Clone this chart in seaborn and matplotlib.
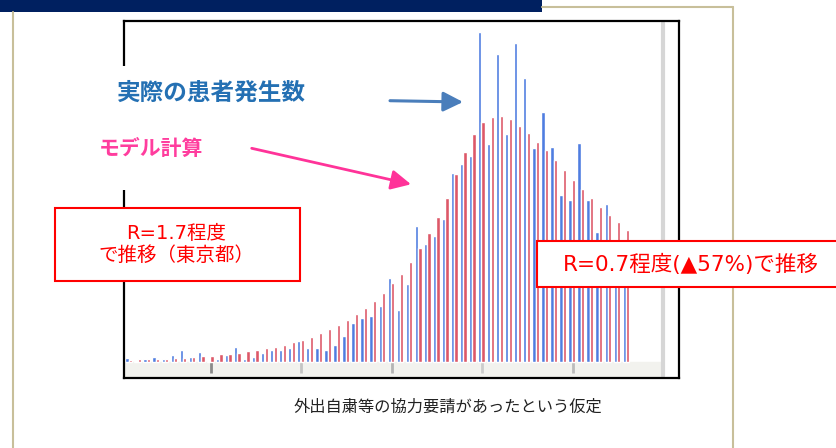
import matplotlib
matplotlib.use("Agg")
import matplotlib.pyplot as plt
from matplotlib.patches import Rectangle, FancyArrowPatch
from matplotlib.lines import Line2D
import pandas as pd
import seaborn as sns

# data (bar heights in arbitrary units)
days = list(range(56))
actual = [3.7, 1.5, 3.3, 5.3, 3.3, 6.7, 12, 5.3, 10.3, 1,
          3.3, 6.7, 15.3, 3.3, 5.3, 8.7, 12, 12, 13.7, 21,
          13.7, 13.7, 12, 17, 26, 39, 44, 46, 56, 84,
          52, 78, 136, 118, 126, 143, 189, 198, 206, 330,
          218, 308, 228, 319, 284, 214, 250, 215, 167, 162,
          219, 162, 130, 158, 112, 100]
model = [2, 2.7, 2.7, 3.3, 3.3, 4, 4, 5, 6, 6,
         7.7, 7.7, 9.3, 11, 12, 13.7, 15.3, 17.3, 20, 22,
         25, 29, 33, 37, 42, 48, 54, 61, 69, 79,
         88, 100, 114, 129, 145, 164, 188, 210, 228, 240,
         245, 246, 243, 236, 229, 220, 212, 202, 192, 182,
         173, 164, 155, 147, 140, 132]
series_names = ["実際の患者発生数", "モデル計算"]
tick_pos = [9.1, 19.1, 29.1, 39.1, 49.1]

sns.set_style("white")
plt.rcParams["font.family"] = ["Noto Sans CJK JP", "DejaVu Sans"]
latin_first = ["DejaVu Sans", "Noto Sans CJK JP"]

W, H = 837, 448
def fx(px):
    return px / W
def fy(py):
    return 1 - py / H

fig = plt.figure(figsize=(W / 100, H / 100), dpi=100)

# slide decoration
fig.patches.append(Rectangle((0, fy(12.5)), fx(542), 12.5 / H, transform=fig.transFigure,
                             facecolor="#002060", edgecolor="none", zorder=0))
gold = "#c8bf9a"
fig.add_artist(Line2D([fx(13), fx(13)], [fy(12), 0], transform=fig.transFigure, color=gold, lw=1.5))
fig.add_artist(Line2D([fx(542), fx(733)], [fy(7), fy(7)], transform=fig.transFigure, color=gold, lw=1.5))
fig.add_artist(Line2D([fx(733), fx(733)], [fy(7), 0], transform=fig.transFigure, color=gold, lw=1.5))

ax = fig.add_axes([fx(124), fy(378), fx(679) - fx(124), (378 - 21.5) / H])

df = pd.DataFrame({
    "day": days * 2,
    "count": actual + model,
    "series": [series_names[0]] * len(days) + [series_names[1]] * len(days),
})
sns.barplot(data=df, x="day", y="count", hue="series", hue_order=series_names,
            palette=["#4f7de0", "#dd5868"], width=0.78, gap=0.06, errorbar=None,
            saturation=1, legend=False, ax=ax, zorder=2)

ax.set_xlim(-0.53, 60.86)
ax.set_ylim(-16, 340.5)
ax.set_xticks([])
ax.set_yticks([])
ax.set_xlabel("")
ax.set_ylabel("")
for sp in ax.spines.values():
    sp.set_color("black")
    sp.set_linewidth(1.6)

# bottom strip, tick stubs and right scroll line of the embedded chart
ax.axhspan(-14, 0, xmin=0, xmax=0.969, color="#f2f2ee", zorder=1)
ax.vlines(tick_pos, -11, 0, colors=["#8a8a8a", "#c4c4c4", "#b4b4b4", "#cccccc", "#bcbcbc"],
          lw=2, zorder=1)
ax.axvline(59.06, ymin=0.005, ymax=0.995, color="#d6d6d6", lw=3, zorder=1)

# label area (white background hides chart border)
fig.patches.append(Rectangle((fx(90), fy(190)), fx(318) - fx(90), (190 - 66) / H,
                             transform=fig.transFigure, facecolor="white", edgecolor="none", zorder=2))
fig.text(fx(211), fy(93), "実際の患者発生数", ha="center", va="center", fontsize=17,
         fontweight="bold", color="#2470b3", zorder=3)
fig.text(fx(151), fy(148), "モデル計算", ha="center", va="center", fontsize=15,
         fontweight="bold", color="#ff3d9e", zorder=3)

# arrows
fig.add_artist(FancyArrowPatch((fx(390), fy(100.7)), (fx(463), fy(102)), transform=fig.transFigure,
                               arrowstyle="-|>,head_length=0.6,head_width=0.3", mutation_scale=20,
                               lw=2.2, color="#4a7ebb", shrinkA=0, shrinkB=0, zorder=3))
fig.add_artist(FancyArrowPatch((fx(251.7), fy(148.3)), (fx(411), fy(184.3)), transform=fig.transFigure,
                               arrowstyle="-|>,head_length=0.6,head_width=0.3", mutation_scale=20,
                               lw=2.0, color="#ff3399", shrinkA=0, shrinkB=0, zorder=3))

# red boxes
fig.patches.append(Rectangle((fx(54.7), fy(281)), fx(300) - fx(54.7), (281 - 208) / H,
                             transform=fig.transFigure, facecolor="white", edgecolor="#ff0000",
                             lw=1.5, zorder=2))
fig.text(fx(176), fy(244.5), "R=1.7程度\nで推移（東京都）", ha="center", va="center", fontsize=14,
         color="#ff0000", linespacing=1.25, family=latin_first, zorder=3)
fig.patches.append(Rectangle((fx(537), fy(287)), fx(850) - fx(537), (287 - 241) / H,
                             transform=fig.transFigure, facecolor="white", edgecolor="#ff0000",
                             lw=1.5, zorder=2))
fig.text(fx(691), fy(264), "R=0.7程度(▲57%)で推移", ha="center", va="center", fontsize=15.5,
         color="#ff0000", family=latin_first, zorder=3)

fig.text(fx(448), fy(407), "外出自粛等の協力要請があったという仮定", ha="center", va="center",
         fontsize=11.7, color="#222222")

fig.savefig("out.png", dpi=100)
